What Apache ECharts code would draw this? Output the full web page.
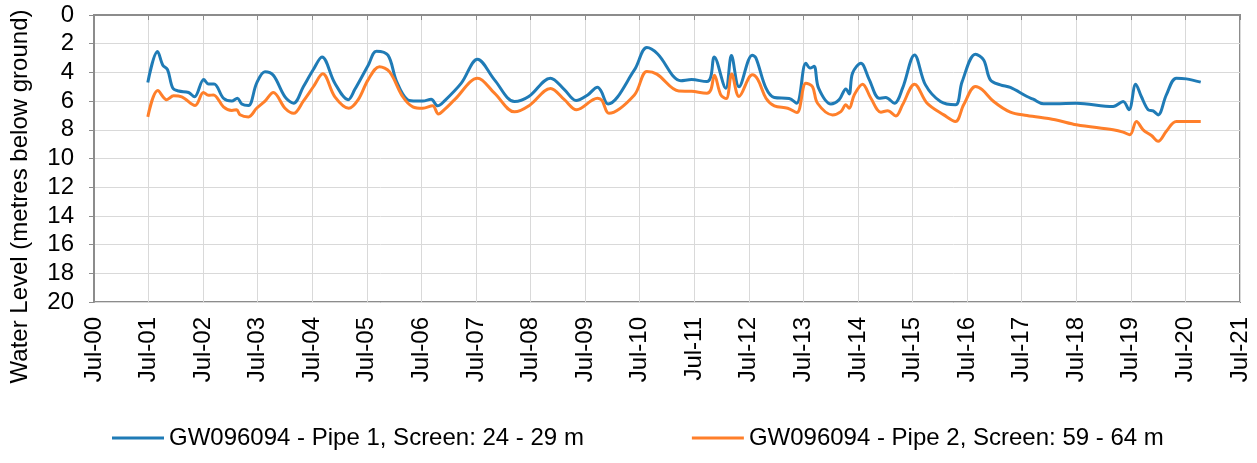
<!DOCTYPE html>
<html>
<head>
<meta charset="utf-8">
<script src="https://cdn.jsdelivr.net/npm/echarts@6/dist/echarts.min.js"></script>
<style>
  html, body { margin: 0; padding: 0; background: #fff; }
  #chart { width: 1257px; height: 463px; }
</style>
</head>
<body>
<div id="chart"></div>
<script>
// series names
var pipe1Name = 'GW096094 - Pipe 1, Screen: 24 - 29 m';
var pipe2Name = 'GW096094 - Pipe 2, Screen: 59 - 64 m';

// Pipe 1 readings (date, metres below ground)
var pipe1Dates = [
  '2001-06-26', '2001-08-30', '2001-10-05', '2001-11-06', '2001-12-11', '2002-01-19',
  '2002-03-25', '2002-05-04', '2002-07-05', '2002-08-06', '2002-09-13', '2002-11-15',
  '2003-01-10', '2003-02-17', '2003-03-16', '2003-04-30', '2003-06-24', '2003-08-19',
  '2003-10-14', '2003-12-31', '2004-02-28', '2004-05-02', '2004-07-08', '2004-09-05',
  '2004-11-30', '2005-02-28', '2005-04-11', '2005-07-10', '2005-09-04', '2005-11-20',
  '2006-01-16', '2006-03-29', '2006-05-28', '2006-07-10', '2006-09-05', '2006-10-18',
  '2006-12-02', '2007-03-24', '2007-07-11', '2007-11-03', '2008-03-15', '2008-06-19',
  '2008-11-12', '2009-02-14', '2009-05-01', '2009-07-18', '2009-09-23', '2009-10-16',
  '2009-12-02', '2010-05-26', '2010-08-18', '2010-10-28', '2011-04-03', '2011-06-13',
  '2011-09-24', '2011-10-20', '2011-11-13', '2012-01-29', '2012-03-06', '2012-04-26',
  '2012-07-23', '2012-08-18', '2012-10-24', '2012-12-19', '2013-03-27', '2013-05-16',
  '2013-07-17', '2013-08-15', '2013-09-11', '2013-10-11', '2014-01-02', '2014-02-27',
  '2014-04-11', '2014-05-03', '2014-05-25', '2014-07-20', '2014-09-15', '2014-11-21',
  '2015-01-04', '2015-03-01', '2015-04-25', '2015-07-14', '2015-09-26', '2016-01-05',
  '2016-04-14', '2016-05-28', '2016-08-26', '2016-10-20', '2016-12-04', '2017-02-10',
  '2017-04-16', '2017-08-06', '2017-09-17', '2017-11-25', '2018-02-12', '2018-07-02',
  '2019-03-04', '2019-05-10', '2019-06-19', '2019-08-03', '2019-09-10', '2019-10-25',
  '2019-11-28', '2020-01-01', '2020-02-25', '2020-05-01', '2020-07-07', '2020-10-12'
];
var pipe1Levels = [
  4.7, 2.55, 3.5, 3.8, 5.1, 5.3,
  5.4, 5.7, 4.5, 4.8, 4.8, 5.8,
  6.0, 5.8, 6.2, 6.3, 4.75, 3.95,
  4.2, 5.7, 6.15, 5.0, 3.8, 2.92,
  4.75, 5.9, 5.2, 3.5, 2.52, 2.8,
  4.6, 5.9, 6.0, 6.0, 5.87, 6.33,
  6.0, 4.75, 3.08, 4.52, 6.03, 5.68,
  4.4, 5.2, 5.96, 5.57, 5.03, 5.3,
  6.2, 3.83, 2.27, 2.7, 4.58, 4.5,
  4.64, 4.3, 2.92, 5.1, 2.83, 5.0,
  2.8, 3.0, 5.1, 5.75, 5.82, 6.15,
  3.36, 3.7, 3.58, 5.1, 6.2, 5.9,
  5.15, 5.5, 4.05, 3.36, 4.5, 5.8,
  5.75, 6.15, 5.1, 2.78, 4.87, 6.03,
  6.26, 4.64, 2.73, 3.13, 4.52, 4.87,
  5.05, 5.68, 5.87, 6.19, 6.19, 6.15,
  6.38, 6.03, 6.6, 4.82, 5.68, 6.6,
  6.68, 6.96, 5.57, 4.4, 4.45, 4.68
];

// Pipe 2 readings (date, metres below ground)
var pipe2Dates = [
  '2001-06-26', '2001-09-02', '2001-11-01', '2001-12-16', '2002-02-10', '2002-05-08',
  '2002-07-03', '2002-08-06', '2002-09-09', '2002-11-15', '2003-01-10', '2003-02-12',
  '2003-03-04', '2003-04-30', '2003-06-24', '2003-08-19', '2003-10-14', '2003-12-31',
  '2004-02-28', '2004-05-02', '2004-07-08', '2004-09-10', '2004-11-30', '2005-03-02',
  '2005-05-04', '2005-07-10', '2005-09-24', '2005-11-30', '2006-02-28', '2006-05-04',
  '2006-07-10', '2006-09-15', '2006-10-23', '2006-12-02', '2007-02-10', '2007-07-12',
  '2007-11-03', '2008-03-15', '2008-06-23', '2008-11-13', '2009-02-14', '2009-05-04',
  '2009-09-23', '2009-10-22', '2009-12-08', '2010-05-26', '2010-08-18', '2010-10-24',
  '2011-03-19', '2011-06-13', '2011-09-24', '2011-10-20', '2011-11-14', '2011-12-26',
  '2012-02-02', '2012-03-08', '2012-04-26', '2012-07-24', '2012-08-30', '2012-10-24',
  '2012-12-19', '2013-03-17', '2013-05-18', '2013-07-17', '2013-09-01', '2013-10-04',
  '2014-01-13', '2014-03-08', '2014-04-11', '2014-05-03', '2014-06-06', '2014-08-01',
  '2014-09-26', '2014-12-02', '2015-01-16', '2015-03-11', '2015-04-25', '2015-07-14',
  '2015-10-07', '2016-01-27', '2016-04-14', '2016-06-08', '2016-08-26', '2016-10-10',
  '2016-12-26', '2017-04-16', '2017-08-06', '2018-02-12', '2018-07-02', '2019-03-04',
  '2019-05-10', '2019-06-24', '2019-08-08', '2019-09-22', '2019-11-17', '2020-01-01',
  '2020-02-25', '2020-05-01', '2020-10-12'
];
var pipe2Levels = [
  7.1, 5.27, 5.9, 5.63, 5.7, 6.3,
  5.4, 5.6, 5.57, 6.4, 6.65, 6.6,
  6.95, 7.1, 6.5, 6.0, 5.4, 6.5,
  6.85, 6.0, 5.0, 4.1, 5.7, 6.5,
  5.9, 4.5, 3.6, 3.95, 5.7, 6.4,
  6.5, 6.33, 6.9, 6.6, 5.9, 4.4,
  5.45, 6.75, 6.3, 5.12, 5.9, 6.6,
  5.8, 5.95, 6.85, 5.57, 3.94, 4.12,
  5.3, 5.32, 5.45, 5.22, 4.2, 5.57,
  5.82, 4.12, 5.68, 4.17, 4.5, 5.8,
  6.33, 6.5, 6.8, 4.75, 5.0, 6.15,
  6.96, 6.73, 6.26, 6.5, 5.57, 4.82,
  5.8, 6.77, 6.68, 7.03, 6.26, 4.82,
  6.15, 6.96, 7.42, 6.26, 4.98, 5.2,
  6.03, 6.77, 7.0, 7.3, 7.65, 8.0,
  8.16, 8.35, 7.42, 8.0, 8.4, 8.8,
  8.1, 7.42, 7.42
];

// axis ticks: every July from 2000 to 2021, months counted from Jul-2000
var tickYears = ['00', '01', '02', '03', '04', '05', '06', '07', '08', '09', '10',
                 '11', '12', '13', '14', '15', '16', '17', '18', '19', '20', '21'];

function monthsFromJul2000(s) {
    var p = s.split('-');
    return (+p[0] - 2000) * 12 + (+p[1] - 7) + (+p[2] - 1) / 30;
}

function pairs(dates, levels) {
    return dates.map(function (d, i) {
        return [monthsFromJul2000(d), levels[i]];
    });
}

var myChart = echarts.init(document.getElementById('chart'));
var font = 'Liberation Sans, Arial, sans-serif';

myChart.setOption({
    animation: false,
    color: ['#1f7bb6', '#ff7f2a'],
    textStyle: { fontFamily: font },
    grid: {
        left: 92,
        right: 17,
        top: 15,
        bottom: 161,
        show: true,
        borderColor: '#8c8c8c',
        borderWidth: 2
    },
    legend: {
        bottom: 8,
        left: 107,
        icon: 'rect',
        itemWidth: 52,
        itemHeight: 3,
        itemGap: 108,
        textStyle: { fontSize: 24, color: '#000', fontFamily: font },
        data: [pipe1Name, pipe2Name]
    },
    xAxis: {
        type: 'value',
        min: 0,
        max: (tickYears.length - 1) * 12,
        interval: 12,
        axisLine: { lineStyle: { color: '#8c8c8c', width: 2 } },
        axisTick: { show: true, length: 5, lineStyle: { color: '#8c8c8c' } },
        splitLine: { show: true, lineStyle: { color: '#d9d9d9', width: 1 } },
        axisLabel: {
            rotate: 90,
            margin: 15,
            fontSize: 24,
            color: '#000',
            fontFamily: font,
            formatter: function (v) {
                return 'Jul-' + tickYears[Math.round(v / 12)];
            }
        }
    },
    yAxis: {
        type: 'value',
        inverse: true,
        min: 0,
        max: 20,
        interval: 2,
        name: 'Water Level (metres below ground)',
        nameLocation: 'middle',
        nameGap: 62,
        nameTextStyle: {
            fontSize: 24,
            color: '#000',
            fontFamily: font,
            padding: [0, 76, 0, 0]
        },
        axisLine: { show: true, lineStyle: { color: '#8c8c8c', width: 2 } },
        axisTick: { show: true, length: 5, lineStyle: { color: '#8c8c8c' } },
        splitLine: { show: true, lineStyle: { color: '#d9d9d9', width: 1 } },
        axisLabel: { fontSize: 24, color: '#000', margin: 20, fontFamily: font }
    },
    series: [
        {
            name: pipe1Name,
            type: 'line',
            smooth: 0.35,
            showSymbol: false,
            lineStyle: { width: 3 },
            data: pairs(pipe1Dates, pipe1Levels)
        },
        {
            name: pipe2Name,
            type: 'line',
            smooth: 0.35,
            showSymbol: false,
            lineStyle: { width: 3 },
            data: pairs(pipe2Dates, pipe2Levels)
        }
    ]
});
</script>
</body>
</html>
